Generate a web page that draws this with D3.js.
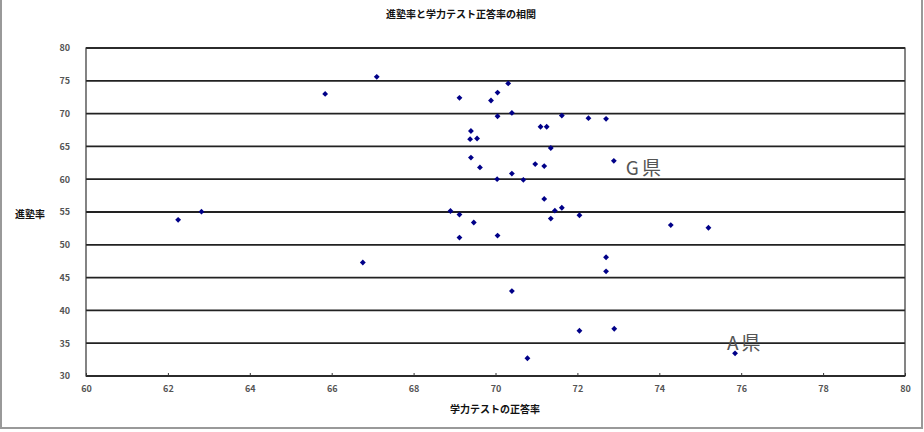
<!DOCTYPE html>
<html>
<head>
<meta charset="utf-8">
<script src="https://cdn.jsdelivr.net/npm/d3@7"></script>
<style>
  body { margin: 0; background: #fff; }
  text { font-family: "Noto Sans CJK JP", sans-serif; }
  .tick text { font-size: 9px; font-weight: bold; fill: #555; }
</style>
</head>
<body>
<div id="chart"></div>
<script>
// 学力テスト正答率 (x) と 進塾率 (y)
var scores = [62.25, 62.82, 65.84, 67.1, 66.76,
    70.31, 69.12, 70.05, 69.89, 70.05, 70.4, 71.62, 72.27, 72.7, 71.1, 71.25,
    69.4, 69.38, 69.55, 71.35, 69.4, 69.62, 70.97, 71.19, 72.89, 70.04, 70.4,
    70.68, 71.19, 68.9, 69.12, 71.45, 71.62, 71.35, 72.05, 69.47, 74.28, 75.2,
    69.12, 70.05, 72.7, 72.7, 70.4, 72.05, 72.9, 70.78, 75.85];
var rates = [53.8, 55.05, 73.0, 75.6, 47.3,
    74.6, 72.4, 73.2, 72.0, 69.6, 70.1, 69.7, 69.3, 69.2, 68.0, 68.0,
    67.35, 66.1, 66.2, 64.75, 63.3, 61.8, 62.3, 62.0, 62.8, 60.0, 60.85,
    59.9, 57.0, 55.15, 54.6, 55.2, 55.65, 54.0, 54.5, 53.4, 53.0, 52.6,
    51.1, 51.4, 48.1, 45.95, 42.95, 36.9, 37.2, 32.7, 33.45];
var xTicks = [60, 62, 64, 66, 68, 70, 72, 74, 76, 78, 80];
var yTicks = [30, 35, 40, 45, 50, 55, 60, 65, 70, 75, 80];
var notes = [{label: "G県", x: 72.89, y: 62.8}, {label: "A県", x: 75.85, y: 33.45}];

var W = 924, H = 432;
var margin = {top: 48, right: 19, bottom: 56, left: 86},
    width = W - margin.left - margin.right,
    height = H - margin.top - margin.bottom;

var x = d3.scaleLinear().domain([60, 80]).range([0, width]);
var y = d3.scaleLinear().domain([30, 80]).range([height, 0]);

var root = d3.select("#chart").append("svg")
    .attr("width", W)
    .attr("height", H);

// outer frame
root.append("rect")
    .attr("x", 1).attr("y", -2)
    .attr("width", W - 3).attr("height", H - 2)
    .attr("fill", "none")
    .attr("stroke", "#999")
    .attr("stroke-width", 2);

var svg = root.append("g")
    .attr("transform", `translate(${margin.left}, ${margin.top})`);

// gridlines
svg.selectAll("line.grid")
    .data(yTicks).enter()
    .append("line")
    .attr("class", "grid")
    .attr("x1", 0).attr("x2", width)
    .attr("y1", d => y(d)).attr("y2", d => y(d))
    .attr("stroke", "#222")
    .attr("stroke-width", 1.8);

// plot border
svg.append("rect")
    .attr("width", width).attr("height", height)
    .attr("fill", "none")
    .attr("stroke", "#333")
    .attr("stroke-width", 1.2);

// axes
var xAxis = svg.append("g")
    .attr("transform", `translate(0, ${height})`)
    .call(d3.axisBottom(x).tickValues(xTicks).tickSize(-3).tickPadding(10));
var yAxis = svg.append("g")
    .call(d3.axisLeft(y).tickValues(yTicks).tickSize(0).tickPadding(16));
[xAxis, yAxis].forEach(a => {
    a.select(".domain").remove();
    a.selectAll(".tick line").attr("stroke", "#333");
});

// points (diamond markers)
svg.selectAll("path.pt")
    .data(scores).enter()
    .append("path")
    .attr("class", "pt")
    .attr("d", d3.symbol().type(d3.symbolSquare).size(17))
    .attr("transform", (d, i) => `translate(${x(d)}, ${y(rates[i])}) rotate(45)`)
    .attr("fill", "#000088");

// annotations
svg.selectAll("text.note")
    .data(notes).enter()
    .append("text")
    .attr("class", "note")
    .attr("x", d => x(d.x) + (d.label == "G県" ? 12 : -8))
    .attr("y", d => y(d.y) + (d.label == "G県" ? 14 : -3))
    .attr("font-size", 19)
    .attr("letter-spacing", 3)
    .attr("fill", "#555")
    .text(d => d.label);

// title and axis labels
root.append("text")
    .attr("x", 461).attr("y", 18)
    .attr("text-anchor", "middle")
    .attr("font-size", 10).attr("font-weight", "bold")
    .attr("fill", "#111")
    .text("進塾率と学力テスト正答率の相関");

root.append("text")
    .attr("x", 495).attr("y", 413)
    .attr("text-anchor", "middle")
    .attr("font-size", 10).attr("font-weight", "bold")
    .attr("fill", "#111")
    .text("学力テストの正答率");

root.append("text")
    .attr("x", 30).attr("y", 218)
    .attr("text-anchor", "middle")
    .attr("font-size", 10).attr("font-weight", "bold")
    .attr("fill", "#111")
    .text("進塾率");
</script>
</body>
</html>
